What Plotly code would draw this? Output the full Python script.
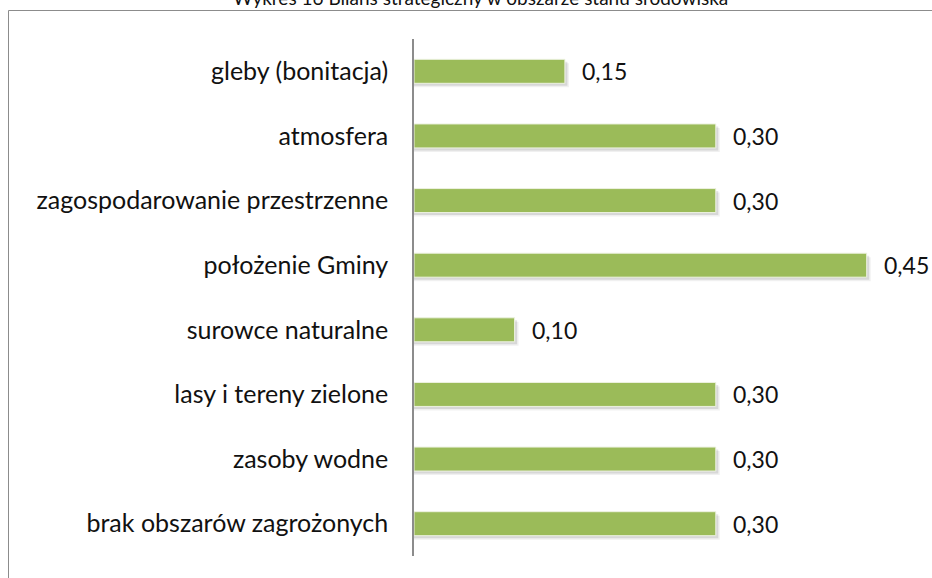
import plotly.graph_objects as go

categories = [
    "gleby (bonitacja)",
    "atmosfera",
    "zagospodarowanie przestrzenne",
    "położenie Gminy",
    "surowce naturalne",
    "lasy i tereny zielone",
    "zasoby wodne",
    "brak obszarów zagrożonych",
]
values = [0.15, 0.30, 0.30, 0.45, 0.10, 0.30, 0.30, 0.30]
title_text = "Wykres 16 Bilans strategiczny w obszarze stanu środowiska"

FONT = "Lato"
BAR_COLOR = "#9BBB59"

W, H = 932, 578
L, R, T, B = 414, 15, 39, 22
XMAX = 0.5
plot_w = W - L - R
plot_h = H - T - B
cat_px = plot_h / len(categories)
BW = 0.371


def px_to_paper_x(px):
    return (px - L) / plot_w


def px_to_paper_y(py):
    return (H - B - py) / plot_h


fig = go.Figure()

# soft drop shadows
for dx, dy, a in [(4, 4, 0.06), (2.5, 2.5, 0.10)]:
    fig.add_trace(go.Bar(
        y=categories, x=[v + dx / (plot_w / XMAX) for v in values], orientation="h",
        marker=dict(color=f"rgba(0,0,0,{a})", line=dict(width=0)),
        width=BW, offset=-BW / 2 + dy / cat_px, hoverinfo="skip", showlegend=False,
    ))
fig.add_trace(go.Bar(
    y=categories, x=values, orientation="h",
    marker=dict(color=BAR_COLOR, line=dict(color="#EDF2E1", width=1)),
    width=BW, offset=-BW / 2, showlegend=False,
))

for c, v in zip(categories, values):
    fig.add_annotation(
        x=v, y=c, xref="x", yref="y", text=f"{v:.2f}".replace(".", ","),
        showarrow=False, xanchor="left", yanchor="middle", xshift=15,
        font=dict(family=FONT, size=23, color="#111111"),
    )

# title (sits at the very top edge as in reference)
fig.add_annotation(
    x=px_to_paper_x(480), y=px_to_paper_y(11), xref="paper", yref="paper",
    text=title_text, showarrow=False, xanchor="center", yanchor="bottom",
    font=dict(family=FONT, size=19, color="#111111"),
)

# outer frame
fig.add_shape(
    type="rect", xref="paper", yref="paper",
    x0=px_to_paper_x(8.5), x1=px_to_paper_x(W + 10),
    y0=px_to_paper_y(H + 10), y1=px_to_paper_y(10.5),
    line=dict(color="#8C8C8C", width=1), fillcolor="rgba(0,0,0,0)", layer="below",
)

fig.update_layout(
    width=W, height=H,
    margin=dict(l=L, r=R, t=T, b=B),
    paper_bgcolor="white", plot_bgcolor="white",
    barmode="overlay",
    font=dict(family=FONT, size=25, color="#111111"),
    xaxis=dict(range=[0, XMAX], visible=False, fixedrange=True),
    yaxis=dict(
        categoryorder="array", categoryarray=categories, autorange="reversed",
        showline=True, linecolor="#8C8C8C", linewidth=1.5,
        showgrid=False, zeroline=False, ticks="", ticklabelstandoff=19,
        tickfont=dict(family=FONT, size=25, color="#111111"),
    ),
)

fig.write_html(
    "out.html",
    config={"displayModeBar": False},
    post_script="document.body.style.margin='0';",
)
